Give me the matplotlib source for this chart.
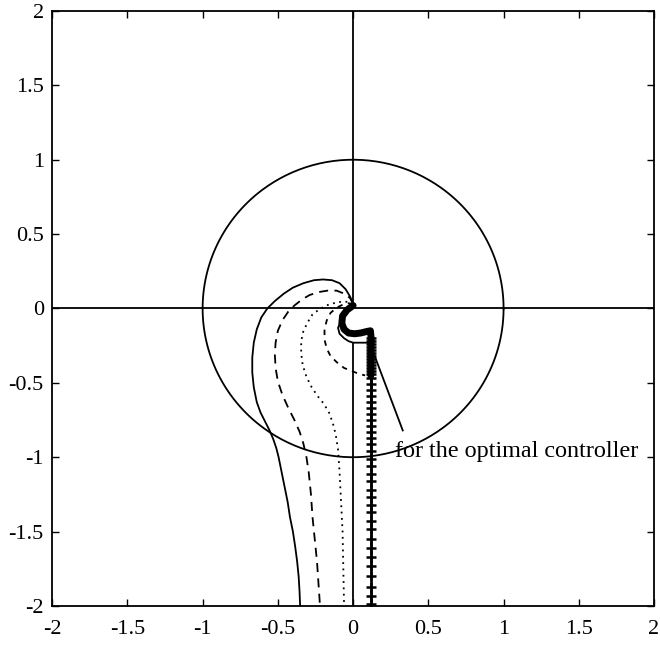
import numpy as np
import matplotlib
matplotlib.use("Agg")
import matplotlib.pyplot as plt

plt.rcParams['font.family'] = ['Liberation Serif', 'DejaVu Serif']

# Nyquist-type loci (real part, imaginary part)
solid_x = [0.0, -0.02, -0.05, -0.09, -0.14, -0.20, -0.26, -0.33, -0.40, -0.46, -0.52, -0.57, -0.61,
           -0.64, -0.66, -0.67, -0.67, -0.66, -0.64, -0.615, -0.585, -0.555, -0.53, -0.51, -0.495,
           -0.475, -0.455, -0.435, -0.42, -0.40, -0.385, -0.372, -0.362, -0.356, -0.352]
solid_y = [0.03, 0.08, 0.13, 0.17, 0.19, 0.195, 0.19, 0.17, 0.14, 0.10, 0.05, 0.0, -0.06,
           -0.14, -0.23, -0.33, -0.43, -0.53, -0.63, -0.70, -0.76, -0.82, -0.88, -0.94, -1.0,
           -1.1, -1.2, -1.3, -1.4, -1.5, -1.6, -1.7, -1.8, -1.9, -2.0]

dashed_x = [0.0, -0.02, -0.06, -0.11, -0.17, -0.23, -0.29, -0.34, -0.39, -0.43, -0.47, -0.50, -0.515,
            -0.52, -0.515, -0.50, -0.47, -0.43, -0.39, -0.355, -0.33, -0.31, -0.295, -0.28, -0.27,
            -0.255, -0.24, -0.23, -0.22]
dashed_y = [0.03, 0.07, 0.10, 0.12, 0.12, 0.11, 0.09, 0.06, 0.02, -0.02, -0.08, -0.15, -0.23,
            -0.31, -0.40, -0.49, -0.58, -0.67, -0.75, -0.83, -0.91, -1.0, -1.1, -1.25, -1.4,
            -1.55, -1.7, -1.85, -2.0]

dotted_x = [0.0, -0.03, -0.08, -0.13, -0.18, -0.23, -0.27, -0.30, -0.33, -0.345, -0.345, -0.335, -0.31,
            -0.275, -0.235, -0.195, -0.16, -0.135, -0.115, -0.10, -0.09, -0.08, -0.07, -0.065, -0.06]
dotted_y = [0.03, 0.045, 0.045, 0.035, 0.02, -0.01, -0.04, -0.09, -0.15, -0.22, -0.30, -0.38, -0.46,
            -0.53, -0.59, -0.64, -0.70, -0.77, -0.85, -0.95, -1.1, -1.3, -1.5, -1.75, -2.0]

dashdot_x = [0.0, -0.03, -0.07, -0.11, -0.15, -0.175, -0.19, -0.19, -0.175, -0.15, -0.11, -0.06,
             -0.01, 0.04, 0.08]
dashdot_y = [0.03, 0.035, 0.025, 0.005, -0.03, -0.08, -0.14, -0.21, -0.27, -0.32, -0.36, -0.40,
             -0.42, -0.44, -0.45]

thin_x = [0.0, -0.04, -0.08, -0.10, -0.09, -0.06, -0.03, 0.0, 0.12]
thin_y = [0.02, -0.03, -0.08, -0.13, -0.17, -0.20, -0.22, -0.23, -0.23]
thin_tail_x = [0.0, 0.0]
thin_tail_y = [-0.23, -2.0]

# optimal controller locus
opt_x = [0.0, -0.04, -0.07, -0.075, -0.06, -0.03, 0.01, 0.05, 0.09, 0.115, 0.12, 0.118, 0.118]
opt_y = [0.02, -0.01, -0.05, -0.10, -0.14, -0.165, -0.17, -0.165, -0.155, -0.15, -0.20, -0.32, -0.45]

opt_mark_y = [-0.20, -0.22, -0.24, -0.26, -0.28, -0.30, -0.32, -0.34, -0.36, -0.38, -0.40, -0.42,
              -0.44, -0.47, -0.51, -0.55, -0.59, -0.63, -0.67, -0.71, -0.75, -0.79, -0.83, -0.87,
              -0.91, -0.96, -1.01, -1.06, -1.11, -1.16, -1.22, -1.27, -1.32, -1.37, -1.43, -1.48,
              -1.55, -1.61, -1.67, -1.73, -1.80, -1.87, -1.93, -1.99]
opt_mark_x = [0.118] * len(opt_mark_y)

ticks = [-2, -1.5, -1, -0.5, 0, 0.5, 1, 1.5, 2]
tick_labels = ['-2', '-1.5', '-1', '-0.5', '0', '0.5', '1', '1.5', '2']

fig = plt.figure(figsize=(6.6, 6.45), dpi=100)
ax = fig.add_axes([0.079, 0.0605, 0.912, 0.9225])

lw = 1.3
# unit circle
theta = np.linspace(0, 2 * np.pi, 400)
ax.plot(np.cos(theta), np.sin(theta), color='black', lw=lw)
# coordinate axes
ax.plot([-2, 2], [0, 0], color='black', lw=lw)
ax.plot([0, 0], [0, 2], color='black', lw=lw)

ax.plot(solid_x, solid_y, color='black', lw=lw)
ax.plot(dashed_x, dashed_y, color='black', lw=lw, linestyle=(0, (5, 3.5)))
ax.plot(dotted_x, dotted_y, color='black', lw=lw, linestyle=(0, (1, 2.5)))
ax.plot(dashdot_x, dashdot_y, color='black', lw=lw, linestyle=(0, (3, 3)))
ax.plot(thin_x, thin_y, color='black', lw=lw)
ax.plot(thin_tail_x, thin_tail_y, color='black', lw=lw)

ax.plot(opt_mark_x, opt_mark_y, color='black', lw=1.8, marker='+', markersize=7, mew=1.8)
ax.plot(opt_x, opt_y, color='black', lw=5, solid_capstyle='round', solid_joinstyle='round',
        zorder=3)

ax.plot([0.125, 0.33], [-0.27, -0.82], color='black', lw=lw)
ax.text(0.28, -1.0, 'for the optimal controller', fontsize=17.4, va='baseline', ha='left')

ax.set_xlim(-2, 2)
ax.set_ylim(-2, 2)
ax.set_xticks(ticks)
ax.set_yticks(ticks)
ax.set_xticklabels(tick_labels)
ax.set_yticklabels(tick_labels)
ax.tick_params(direction='in', length=5, width=1, top=True, right=True, labelsize=16, pad=6)
ax.tick_params(axis='x', pad=10)
for s in ax.spines.values():
    s.set_linewidth(1.3)

fig.savefig('out.png', dpi=100)
